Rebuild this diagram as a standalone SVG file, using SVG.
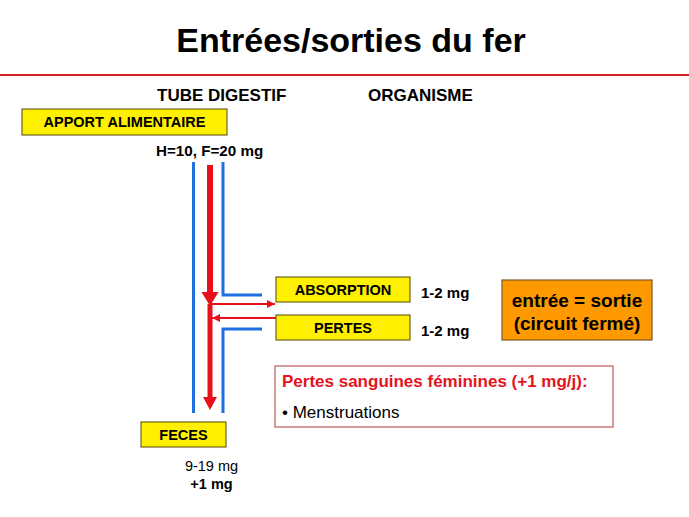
<svg xmlns="http://www.w3.org/2000/svg" width="689" height="517" viewBox="0 0 689 517">
<defs>
<style>
text{font-family:"Liberation Sans",Arial,sans-serif;}
.b{font-weight:bold;}
.ybox{fill:#FFF000;stroke:#6b6420;stroke-width:1.2;}
.lbl{font-size:14.5px;font-weight:bold;fill:#000;text-anchor:middle;}
.blue{fill:none;stroke:#1f6fe0;stroke-width:3;}
.red{fill:none;stroke:#e8101a;}
</style>
<marker id="ah" viewBox="0 0 10 10" refX="10" refY="5" markerWidth="11" markerHeight="8" markerUnits="userSpaceOnUse" orient="auto">
<path d="M0,0 L10,5 L0,10 Z" fill="#e8101a"/>
</marker>
</defs>
<rect width="689" height="517" fill="#fff"/>
<g id="title">
<text x="351" y="52" class="b" font-size="34" text-anchor="middle">Entrées/sorties du fer</text>
<line x1="0" y1="75" x2="689" y2="75" stroke="#d42020" stroke-width="2"/>
</g>
<g id="headers">
<text x="157" y="101" class="b" font-size="17">TUBE DIGESTIF</text>
<text x="368" y="101" class="b" font-size="17">ORGANISME</text>
</g>
<g id="connectors">
<polyline class="blue" points="193.5,162 193.5,413"/>
<polyline class="blue" points="223,162 223,295 262,295"/>
<polyline class="blue" points="262,329 223,329 223,413"/>
<line class="red" x1="210" y1="165" x2="210" y2="294" stroke-width="6"/>
<path d="M201.5,292 L218.5,292 L210,306 Z" fill="#e8101a"/>
<line class="red" x1="210" y1="304" x2="210" y2="399" stroke-width="5"/>
<path d="M203,397 L217,397 L210,410 Z" fill="#e8101a"/>
<line class="red" x1="211" y1="304" x2="275" y2="304" stroke-width="2" marker-end="url(#ah)"/>
<line class="red" x1="276" y1="318" x2="212" y2="318" stroke-width="2" marker-end="url(#ah)"/>
</g>
<g id="apport">
<rect class="ybox" x="22" y="109" width="205" height="26"/>
<text class="lbl" x="124.5" y="127">APPORT ALIMENTAIRE</text>
</g>
<g id="apport-qty">
<text x="156" y="156" class="b" font-size="15.2">H=10, F=20 mg</text>
</g>
<g id="absorption">
<rect class="ybox" x="276" y="277" width="134" height="25"/>
<text class="lbl" x="343" y="295">ABSORPTION</text>
<text x="421" y="298" class="b" font-size="15">1-2 mg</text>
</g>
<g id="pertes">
<rect class="ybox" x="276" y="315" width="134" height="25"/>
<text class="lbl" x="343" y="333">PERTES</text>
<text x="421" y="336" class="b" font-size="15">1-2 mg</text>
</g>
<g id="bilan">
<rect x="502" y="280" width="150" height="60" fill="#FF9900" stroke="#7a5a25" stroke-width="1.2"/>
<text x="577" y="307" class="b" font-size="19" text-anchor="middle">entrée = sortie</text>
<text x="577" y="330" class="b" font-size="19" text-anchor="middle">(circuit fermé)</text>
</g>
<g id="pertes-sanguines">
<rect x="275" y="366" width="338" height="61" fill="#fff" stroke="#c05a5a" stroke-width="1.2"/>
<text x="282" y="387" class="b" font-size="17" fill="#e3141e">Pertes sanguines féminines (+1 mg/j):</text>
<text x="282" y="418" font-size="17" fill="#000">• Menstruations</text>
</g>
<g id="feces">
<rect class="ybox" x="141" y="422" width="85" height="25"/>
<text class="lbl" x="183.5" y="440">FECES</text>
<text x="211.5" y="471" font-size="14.5" text-anchor="middle">9-19 mg</text>
<text x="211.5" y="489" class="b" font-size="14.5" text-anchor="middle">+1 mg</text>
</g>
</svg>
